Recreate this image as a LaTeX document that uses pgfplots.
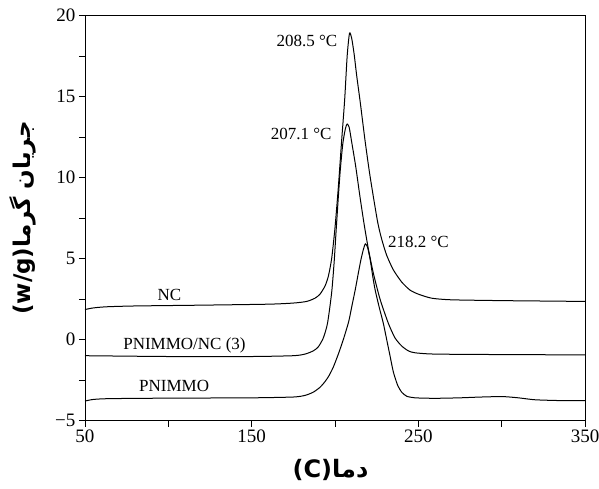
\documentclass[border=0pt]{standalone}
\usepackage{fontspec}
\setmainfont{Liberation Serif}
\newfontfamily\arabicfont[Script=Arabic]{DejaVu Sans}
\TeXXeTstate=1
\usepackage{pgfplots}
\pgfplotsset{compat=1.18}

\pgfplotstableread{
x y
50 1.85
55 1.95
63 2.02
80 2.07
120 2.12
160 2.18
175 2.25
183 2.35
188 2.55
191 2.8
194 3.3
196 3.9
198 5.0
200 6.9
202 9.4
204 12.3
205.8 14.8
207.3 17.5
208.7 18.9
210 18.6
211.5 17.6
213 16.3
215.2 14.6
218 12.3
221 10.1
225.5 7.3
228 6.2
231 5.2
235 4.3
240 3.55
245 3.05
250 2.8
258 2.55
270 2.45
300 2.4
330 2.37
350 2.35
}\nc

\pgfplotstableread{
x y
50 -1.0
100 -1.05
150 -1.05
175 -1.0
182 -0.9
187 -0.7
190 -0.45
193 0.1
195.5 1.0
198 2.9
199.5 4.8
200.6 6.6
202 8.8
203.2 10.5
204.7 12.1
206.2 13.0
207.3 13.3
208.5 13.1
210 12.2
212.4 10.7
215 8.8
217.5 7.1
220 5.6
223 4.1
227 2.5
232 1.0
236 0.1
240 -0.4
244 -0.7
248 -0.82
260 -0.9
300 -0.93
350 -0.95
}\mix

\pgfplotstableread{
x y
50 -3.8
55 -3.7
65 -3.65
100 -3.62
150 -3.6
175 -3.55
182 -3.45
187 -3.25
191 -2.95
194 -2.6
196.3 -2.25
199 -1.7
202 -0.9
205 0.0
208.2 1.1
210 2.0
212.2 3.1
214 4.1
215.5 4.9
217 5.55
218.2 5.9
219.5 5.7
221 5.0
222.5 4.0
224 3.1
226.5 2.0
229 1.0
231 0.0
233 -1.0
235 -2.0
237.5 -2.8
240 -3.25
243 -3.5
248 -3.6
260 -3.63
275 -3.6
285 -3.56
295 -3.53
302 -3.53
310 -3.6
320 -3.72
335 -3.77
350 -3.78
}\pnimmo

\begin{document}
\begin{tikzpicture}
\begin{axis}[
  scale only axis,
  width=500pt, height=405pt,
  xmin=50, xmax=350, ymin=-5, ymax=20,
  xtick={50,150,250,350},
  minor xtick={100,200,300},
  ytick={-5,0,5,10,15,20},
  yticklabels={−5,0,5,10,15,20},
  minor ytick={-2.5,2.5,7.5,12.5,17.5},
  xtick pos=bottom, ytick pos=left,
  tick align=outside,
  major tick length=6pt, minor tick length=6pt,
  every tick/.style={black, line width=0.8pt},
  axis line style={line width=0.8pt},
  tick label style={font=\fontsize{19}{22}\selectfont},
  /pgf/number format/assume math mode=true,
  xlabel={\arabicfont\bfseries\fontsize{24}{28}\selectfont (C)\beginR دما\endR},
  ylabel={\arabicfont\bfseries\fontsize{23}{28}\selectfont (w/g)\beginR جریان گرما\endR},
  every axis x label/.style={at={(axis description cs:0.491,-0.122)}, anchor=center},
  every axis y label/.style={at={(axis description cs:-0.125,0.5)}, rotate=90, anchor=center},
]
\addplot[black, line width=1pt, no markers, smooth, tension=0.4] table[x=x,y=y] {\nc};
\addplot[black, line width=1pt, no markers, smooth, tension=0.4] table[x=x,y=y] {\mix};
\addplot[black, line width=1pt, no markers, smooth, tension=0.4] table[x=x,y=y] {\pnimmo};
\node[anchor=east, font=\fontsize{17}{20}\selectfont] at (axis cs:203.5,18.45) {208.5 °C};
\node[anchor=east, font=\fontsize{17}{20}\selectfont] at (axis cs:200,12.7) {207.1 °C};
\node[anchor=west, font=\fontsize{17}{20}\selectfont] at (axis cs:229.7,6.0) {218.2 °C};
\node[font=\fontsize{17}{20}\selectfont] at (axis cs:100.7,2.75) {NC};
\node[font=\fontsize{17}{20}\selectfont] at (axis cs:109.7,-0.34) {PNIMMO/NC (3)};
\node[font=\fontsize{17}{20}\selectfont] at (axis cs:103.5,-2.87) {PNIMMO};
\end{axis}
\pgfresetboundingbox
\useasboundingbox ([shift={(-85pt,-67.5pt)}]current axis.south west) rectangle ([shift={(14pt,15.5pt)}]current axis.north east);
\end{tikzpicture}
\end{document}
